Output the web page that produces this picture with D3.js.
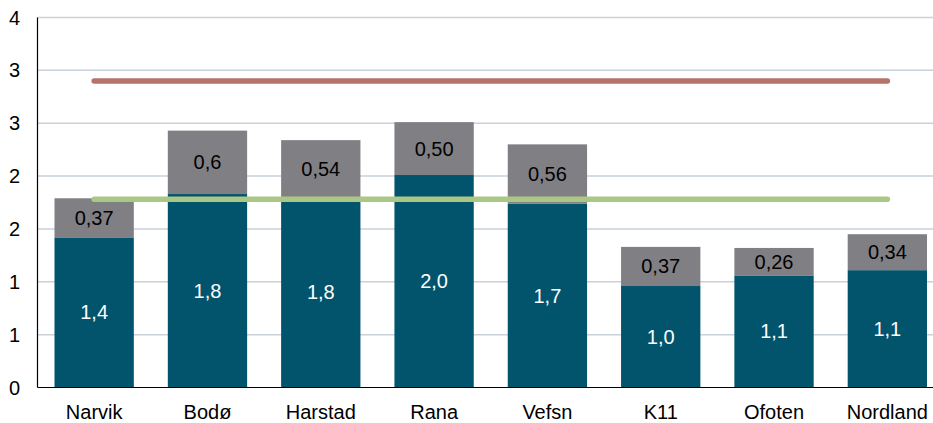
<!DOCTYPE html>
<html>
<head>
<meta charset="utf-8">
<script src="https://cdn.jsdelivr.net/npm/d3@7"></script>
<style>
  body { margin: 0; background: #fff; }
  text { font-family: "Liberation Sans", Arial, sans-serif; }
</style>
</head>
<body>
<div id="chart"></div>
<script>
const categories = ["Narvik", "Bodø", "Harstad", "Rana", "Vefsn", "K11", "Ofoten", "Nordland"];
const baseValues = [1.42, 1.83, 1.80, 2.01, 1.74, 0.96, 1.06, 1.11];
const topValues = [0.37, 0.60, 0.54, 0.50, 0.56, 0.37, 0.26, 0.34];
const topDecimals = [2, 1, 2, 2, 2, 2, 2, 2];
const redLevel = 2.9;
const greenLevel = 1.78;
const yTicks = [0, 0.5, 1, 1.5, 2, 2.5, 3, 3.5];

let width = 933, height = 423;

let svg = d3.select("#chart")
    .append("svg")
    .attr("width", width)
    .attr("height", height);

let x = d3.scaleBand()
    .domain(categories)
    .range([37.5, 944])
    .paddingInner(0.3)
    .paddingOuter(0.15);

let y = d3.scaleLinear()
    .domain([0, 3.5])
    .range([387.5, 17.5]);

const comma = (v, d) => v.toFixed(d).replace(".", ",");
const fs = 20;

// gridlines
svg.append("g")
    .selectAll("line")
    .data(yTicks.slice(1))
    .enter().append("line")
    .attr("x1", 37.5)
    .attr("x2", width)
    .attr("y1", d => y(d))
    .attr("y2", d => y(d))
    .attr("stroke", "#c9d1da")
    .attr("stroke-width", 1.5);

// y tick labels
svg.append("g")
    .selectAll("text")
    .data(yTicks)
    .enter().append("text")
    .attr("x", 20)
    .attr("y", d => y(d))
    .attr("dy", "0.35em")
    .attr("text-anchor", "end")
    .attr("font-size", fs)
    .attr("fill", "#000")
    .text(d => Math.round(d));

let bars = svg.append("g")
    .selectAll("g")
    .data(categories)
    .enter().append("g");

bars.append("rect")
    .attr("x", d => x(d))
    .attr("width", x.bandwidth())
    .attr("y", (d, i) => y(baseValues[i]))
    .attr("height", (d, i) => y(0) - y(baseValues[i]))
    .attr("fill", "#02546d");

bars.append("rect")
    .attr("x", d => x(d))
    .attr("width", x.bandwidth())
    .attr("y", (d, i) => y(baseValues[i] + topValues[i]))
    .attr("height", (d, i) => y(baseValues[i]) - y(baseValues[i] + topValues[i]))
    .attr("fill", "#807f84");

bars.append("text")
    .attr("x", d => x(d) + x.bandwidth() / 2)
    .attr("y", (d, i) => y(baseValues[i] / 2))
    .attr("dy", "0.35em")
    .attr("text-anchor", "middle")
    .attr("font-size", fs)
    .attr("fill", "#fff")
    .text((d, i) => comma(baseValues[i], 1));

bars.append("text")
    .attr("x", d => x(d) + x.bandwidth() / 2)
    .attr("y", (d, i) => y(baseValues[i] + topValues[i] / 2))
    .attr("dy", "0.35em")
    .attr("text-anchor", "middle")
    .attr("font-size", fs)
    .attr("fill", "#000")
    .text((d, i) => comma(topValues[i], topDecimals[i]));

// reference lines
let x0 = x(categories[0]) + x.bandwidth() / 2,
    x1 = x(categories[categories.length - 1]) + x.bandwidth() / 2;

[[redLevel, "#b5736b"], [greenLevel, "#abc785"]].forEach(function(l) {
    svg.append("line")
        .attr("x1", x0)
        .attr("x2", x1)
        .attr("y1", y(l[0]))
        .attr("y2", y(l[0]))
        .attr("stroke", l[1])
        .attr("stroke-width", 5.5)
        .attr("stroke-linecap", "round");
});

// axes lines
svg.append("line")
    .attr("x1", 37.5).attr("x2", 37.5)
    .attr("y1", y(3.5)).attr("y2", y(0))
    .attr("stroke", "#000").attr("stroke-width", 1.2);

svg.append("line")
    .attr("x1", 37.5).attr("x2", width)
    .attr("y1", y(0)).attr("y2", y(0))
    .attr("stroke", "#000").attr("stroke-width", 1.2);

// category labels
svg.append("g")
    .selectAll("text")
    .data(categories)
    .enter().append("text")
    .attr("x", d => x(d) + x.bandwidth() / 2)
    .attr("y", 412)
    .attr("dy", "0.35em")
    .attr("text-anchor", "middle")
    .attr("font-size", fs)
    .attr("fill", "#000")
    .text(d => d);
</script>
</body>
</html>
